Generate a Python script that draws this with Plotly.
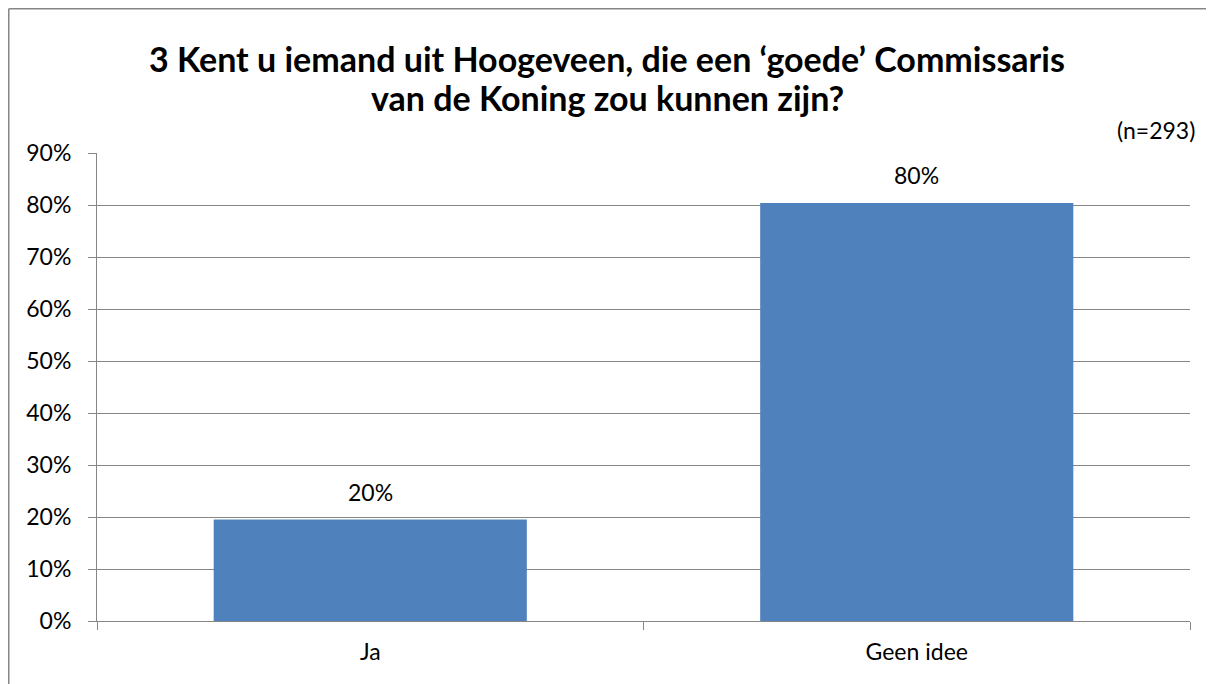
import plotly.graph_objects as go

categories = ["Ja", "Geen idee"]
values = [0.195, 0.804]
value_labels = ["20%", "80%"]
tick_vals = [0, 0.1, 0.2, 0.3, 0.4, 0.5, 0.6, 0.7, 0.8, 0.9]
tick_text = ["0%", "10%", "20%", "30%", "40%", "50%", "60%", "70%", "80%", "90%"]
title_lines = ["3 Kent u iemand uit Hoogeveen, die een ‘goede’ Commissaris",
               "van de Koning zou kunnen zijn?"]
n_text = "(n=293)"

# figure coordinates (page has an 8px body margin)
W, H = 1214, 684
L, R, T, B = 89, 32, 145, 71
pw, ph = W - L - R, H - T - B

def px_x(x):
    return (x - L) / pw

def px_y(y):
    return (H - B - y) / ph

FONT = "Lato"
GRID = "#868686"
FS = 23

fig = go.Figure()
fig.add_trace(go.Bar(
    x=categories, y=values,
    marker=dict(color="#4F81BD", line=dict(width=0)),
    width=0.573, hoverinfo="skip",
))

annotations = []
for c, v, t in zip(categories, values, value_labels):
    annotations.append(dict(x=c, y=v, xref="x", yref="y", text=t, showarrow=False,
                            yanchor="bottom", yshift=12,
                            font=dict(family=FONT, size=FS, color="#000000")))
for i, (line, yc) in enumerate(zip(title_lines, [50, 89])):
    annotations.append(dict(text="<b>" + line + "</b>", xref="paper", yref="paper",
                            x=px_x(599), y=px_y(yc), xanchor="center", yanchor="middle",
                            showarrow=False, font=dict(family=FONT, size=34, color="#000000")))
annotations.append(dict(text=n_text, xref="paper", yref="paper", x=px_x(1189), y=px_y(122),
                        xanchor="right", yanchor="middle", showarrow=False,
                        font=dict(family=FONT, size=FS, color="#000000")))

border = dict(color=GRID, width=1.5)
fig.update_layout(
    width=W, height=H,
    margin=dict(l=L, r=R, t=T, b=B, autoexpand=False),
    paper_bgcolor="white", plot_bgcolor="white",
    showlegend=False,
    font=dict(family=FONT, size=FS, color="#000000"),
    xaxis=dict(showline=True, linecolor=GRID, linewidth=1, ticks="outside", tickson="boundaries",
               ticklen=8, tickcolor=GRID, showgrid=False, tickfont=dict(size=FS),
               ticklabelstandoff=10),
    yaxis=dict(range=[0, 0.9], tickvals=tick_vals, ticktext=tick_text, showline=True, linecolor=GRID,
               linewidth=1, ticks="outside", ticklen=8, tickcolor=GRID, showgrid=True,
               gridcolor=GRID, gridwidth=1, zeroline=False, tickfont=dict(size=FS),
               ticklabelstandoff=12),
    bargap=0.427,
    annotations=annotations,
    shapes=[
        dict(type="line", xref="paper", yref="paper", x0=px_x(0.75), x1=px_x(W),
             y0=px_y(0.75), y1=px_y(0.75), line=border, layer="above"),
        dict(type="line", xref="paper", yref="paper", x0=px_x(0.75), x1=px_x(0.75),
             y0=px_y(0.75), y1=px_y(H), line=border, layer="above"),
    ],
)

fig.write_html("out.html", post_script=(
    "document.documentElement.style.overflow='hidden';"
    "document.body.style.overflow='hidden';"))
